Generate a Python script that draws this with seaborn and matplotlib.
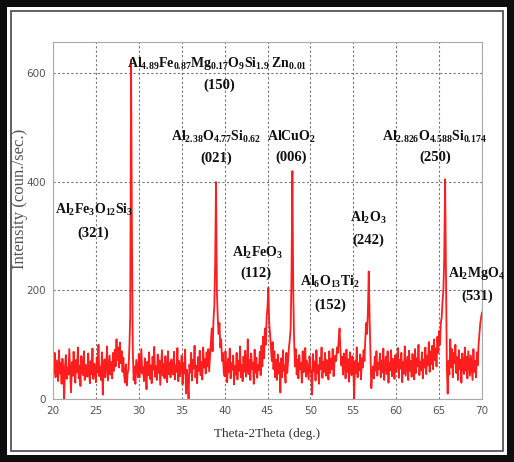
import numpy as np
import matplotlib
matplotlib.use("Agg")
import matplotlib.pyplot as plt
from matplotlib.patches import Rectangle
from matplotlib.ticker import MultipleLocator
import seaborn as sns

# Step scan: 20-70 deg, 0.1 deg per step
scan_start, scan_stop, scan_step = 20.0, 70.0, 0.1

# Counts per step, two degrees per row
counts_20 = [62, 48, 85, 40, 71, 55, 33, 90, 47, 66, 28, 74, 52, 0, 60, 81, 37, 58, 45, 92]
counts_22 = [50, 12, 68, 43, 87, 55, 30, 72, 49, 95, 38, 61, 24, 79, 53, 44, 88, 35, 63, 57]
counts_24 = [41, 84, 52, 29, 70, 46, 93, 37, 65, 58, 31, 77, 49, 100, 42, 60, 35, 86, 8, 55]
counts_26 = [73, 40, 62, 97, 34, 57, 80, 45, 68, 38, 85, 52, 91, 60, 110, 72, 95, 58, 104, 66]
counts_28 = [88, 50, 76, 42, 30, 64, 25, 48, 55, 95, 150, 625, 300, 90, 35, 60, 28, 72, 55, 40]
counts_30 = [83, 40, 66, 92, 47, 58, 33, 75, 51, 18, 69, 44, 86, 37, 62, 29, 78, 54, 96, 41]
counts_32 = [60, 35, 82, 48, 71, 26, 57, 90, 43, 64, 38, 79, 52, 31, 88, 46, 67, 40, 73, 55]
counts_34 = [45, 87, 36, 62, 50, 94, 33, 70, 42, 58, 80, 27, 66, 47, 91, 10, 54, 38, 0, 63]
counts_36 = [49, 85, 34, 72, 56, 98, 40, 61, 29, 77, 52, 89, 44, 68, 36, 95, 58, 74, 47, 86]
counts_38 = [60, 92, 51, 78, 105, 130, 88, 145, 170, 250, 400, 200, 150, 120, 140, 95, 110, 70, 85, 50]
counts_40 = [42, 88, 57, 31, 74, 49, 93, 38, 66, 54, 80, 27, 61, 45, 85, 36, 70, 52, 97, 40]
counts_42 = [63, 33, 78, 50, 89, 41, 58, 110, 46, 72, 35, 84, 55, 67, 28, 91, 48, 76, 39, 62]
counts_44 = [53, 87, 44, 98, 60, 115, 75, 130, 100, 150, 170, 205, 140, 120, 95, 70, 105, 55, 88, 40]
counts_46 = [72, 35, 82, 47, 66, 12, 75, 40, 90, 52, 62, 30, 85, 48, 70, 95, 110, 130, 230, 420]
counts_48 = [200, 110, 60, 92, 45, 73, 38, 81, 55, 67, 30, 88, 49, 62, 94, 41, 70, 53, 36, 79]
counts_50 = [57, 44, 8, 83, 51, 69, 34, 90, 47, 62, 28, 76, 55, 95, 39, 68, 50, 85, 43, 72]
counts_52 = [60, 36, 88, 48, 74, 55, 92, 42, 66, 80, 70, 95, 85, 110, 130, 90, 62, 78, 45, 84]
counts_54 = [68, 38, 91, 50, 73, 32, 86, 57, 44, 79, 62, 0, 70, 48, 95, 40, 66, 53, 82, 36]
counts_56 = [75, 58, 90, 70, 110, 140, 120, 160, 235, 150, 85, 20, 45, 60, 38, 78, 52, 88, 43, 67]
counts_58 = [55, 84, 40, 71, 49, 93, 35, 62, 78, 46, 88, 30, 67, 53, 90, 42, 74, 58, 37, 81]
counts_60 = [50, 65, 94, 39, 72, 56, 85, 31, 68, 47, 97, 43, 60, 78, 35, 89, 52, 70, 41, 83]
counts_62 = [57, 36, 92, 48, 75, 60, 100, 44, 69, 53, 86, 38, 73, 58, 95, 46, 80, 62, 105, 50]
counts_64 = [88, 64, 98, 55, 110, 72, 93, 60, 115, 85, 125, 100, 140, 150, 180, 200, 260, 405, 230, 60]
counts_66 = [10, 70, 45, 110, 58, 92, 40, 85, 66, 100, 48, 77, 35, 90, 55, 72, 30, 84, 60, 46]
counts_68 = [95, 52, 78, 38, 88, 64, 43, 80, 57, 35, 92, 50, 70, 40, 86, 62, 100, 120, 140, 150]
counts_70 = [160]

intensity = (counts_20 + counts_22 + counts_24 + counts_26 + counts_28 + counts_30
             + counts_32 + counts_34 + counts_36 + counts_38 + counts_40 + counts_42
             + counts_44 + counts_46 + counts_48 + counts_50 + counts_52 + counts_54
             + counts_56 + counts_58 + counts_60 + counts_62 + counts_64 + counts_66
             + counts_68 + counts_70)
two_theta = np.round(np.arange(scan_start, scan_stop + scan_step / 2, scan_step), 1)

# Phase identification: formula, (hkl), and where each label sits
phase_names = [
    r"Al$_{4.89}$Fe$_{0.87}$Mg$_{0.17}$O$_{9}$Si$_{1.9}$ Zn$_{0.01}$",
    r"Al$_{2.38}$O$_{4.77}$Si$_{0.62}$",
    r"AlCuO$_{2}$",
    r"Al$_{2.826}$O$_{4.588}$Si$_{0.174}$",
    r"Al$_{2}$Fe$_{3}$O$_{12}$Si$_{3}$",
    r"Al$_{2}$FeO$_{3}$",
    r"Al$_{2}$O$_{3}$",
    r"Al$_{6}$O$_{13}$Ti$_{2}$",
    r"Al$_{2}$MgO$_{4}$",
]
phase_hkl = ["(150)", "(021)", "(006)", "(250)", "(321)", "(112)", "(242)", "(152)", "(531)"]
name_xy = [(39.1, 619), (39.0, 483), (47.8, 483), (64.4, 483), (24.8, 349),
           (43.8, 269), (56.8, 333), (52.3, 216), (69.4, 232)]
hkl_xy = [(39.4, 579), (39.0, 444), (47.8, 446), (64.6, 446), (24.7, 306),
          (43.7, 232), (56.7, 293), (52.3, 173), (69.5, 190)]

sns.set_style("white")
plt.rcParams["mathtext.fontset"] = "custom"
plt.rcParams["mathtext.rm"] = "Liberation Serif:bold"
plt.rcParams["mathtext.it"] = "Liberation Serif:bold"
plt.rcParams["mathtext.bf"] = "Liberation Serif:bold"

W, H, DPI = 514, 462, 100
fig = plt.figure(figsize=(W / DPI, H / DPI), dpi=DPI, facecolor="white")

# Framed border around the whole figure
fig.add_artist(Rectangle((0, 0), 1, 1, transform=fig.transFigure,
                         facecolor="#0d0d0d", edgecolor="none", zorder=-10))
bx, by = 7 / W, 7 / H
fig.add_artist(Rectangle((bx, by), 1 - 2 * bx, 1 - 2 * by, transform=fig.transFigure,
                         facecolor="white", edgecolor="none", zorder=-9))
ix, iy = 11 / W, 11 / H
fig.add_artist(Rectangle((ix, iy), 1 - 2 * ix, 1 - 2 * iy, transform=fig.transFigure,
                         facecolor="none", edgecolor="#555555", linewidth=1.3, zorder=-8))

ax = fig.add_axes([53 / W, (H - 399) / H, (482 - 53) / W, (399 - 42) / H])
ax.set_facecolor("white")

sns.lineplot(x=two_theta, y=intensity, ax=ax, color="#ff1010", linewidth=1.3,
             alpha=0.95, estimator=None, sort=False)

ax.set_xlim(20, 70)
ax.set_ylim(0, 658)
ax.xaxis.set_major_locator(MultipleLocator(5))
ax.xaxis.set_minor_locator(MultipleLocator(1))
ax.yaxis.set_major_locator(MultipleLocator(200))
ax.yaxis.set_minor_locator(MultipleLocator(50))
ax.grid(True, which="major", color="#777777", linestyle=(0, (2, 2)), linewidth=0.8)
ax.set_axisbelow(True)
for side in ax.spines.values():
    side.set_color("#aaaaaa")
    side.set_linewidth(0.8)
ax.tick_params(axis="both", which="major", direction="out", length=3, width=0.7,
               color="#777777", labelsize=7.5, labelcolor="#555555", pad=2)
ax.tick_params(axis="both", which="minor", direction="in", length=2, width=0.6,
               color="#888888")
for lab in ax.get_xticklabels() + ax.get_yticklabels():
    lab.set_fontfamily("Liberation Sans Narrow")

ax.set_xlabel("Theta-2Theta (deg.)", fontfamily="Liberation Serif", fontsize=9.5,
              color="#333333", labelpad=9)
ax.set_ylabel("Intensity (coun./sec.)", fontfamily="Liberation Serif", fontsize=12,
              color="#555555")
ax.yaxis.set_label_coords(-0.058, 0.56)

for name, hkl, (nx, ny), (hx, hy) in zip(phase_names, phase_hkl, name_xy, hkl_xy):
    ax.text(nx, ny, name, ha="center", va="center", fontsize=10,
            fontfamily="Liberation Serif", fontweight="bold", color="#111111")
    ax.text(hx, hy, hkl, ha="center", va="center", fontsize=10.5,
            fontfamily="Liberation Serif", fontweight="bold", color="#111111")

fig.savefig("out.png", dpi=DPI, facecolor="white")
